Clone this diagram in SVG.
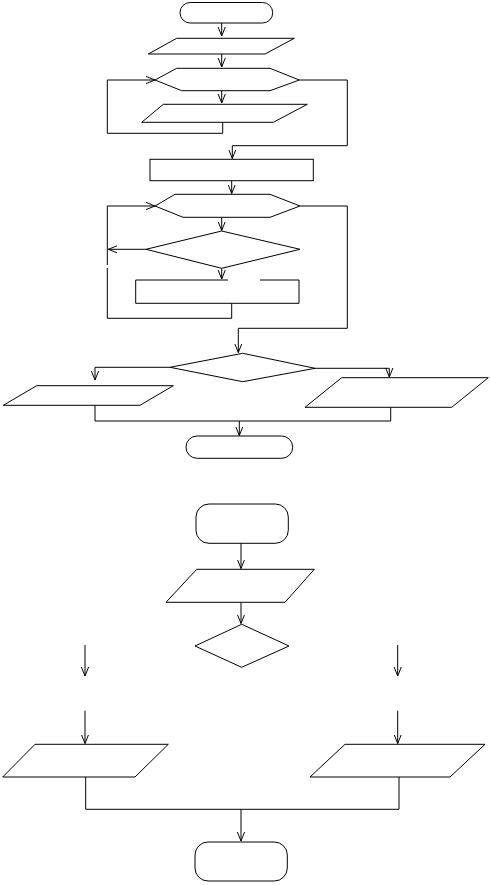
<svg xmlns="http://www.w3.org/2000/svg" width="490" height="885" viewBox="0 0 490 885">
<defs>
<style>
.s{fill:#fff;stroke:#000;stroke-width:1}
.c{fill:none;stroke:#000;stroke-width:1}
</style>
<marker id="a" viewBox="0 0 10 10" refX="10" refY="5" markerWidth="9" markerHeight="9" markerUnits="userSpaceOnUse" orient="auto">
<path d="M0,1 L10,5 L0,9" fill="none" stroke="#000" stroke-width="1.1"/>
</marker>
</defs>
<rect width="490" height="885" fill="#fff"/>
<g id="connectors" class="c">
<path class="c" d="M221.7,23 V36" marker-end="url(#a)"/>
<path class="c" d="M221.7,54 V67" marker-end="url(#a)"/>
<path class="c" d="M221.7,91 V103" marker-end="url(#a)"/>
<path class="c" d="M222.7,122 V133.3 H107.3 V80 H155" marker-end="url(#a)"/>
<path class="c" d="M299.3,80 H347.3 V145.7 H232.3 V158.5" marker-end="url(#a)"/>
<path class="c" d="M231.7,180.7 V193.5" marker-end="url(#a)"/>
<path class="c" d="M221.7,217.3 V230.5" marker-end="url(#a)"/>
<path class="c" d="M146,249.3 H108.3" marker-end="url(#a)"/>
<path class="c" d="M221.7,268.3 V279" marker-end="url(#a)"/>
<path class="c" d="M231.7,303.3 V318.3 H107.3 V268"/>
<path class="c" d="M107.3,265 V206 H155" marker-end="url(#a)"/>
<path class="c" d="M300,206 H347.3 V328.3 H238.3 V352.5" marker-end="url(#a)"/>
<path class="c" d="M170,367.3 H95 V380" marker-end="url(#a)"/>
<path class="c" d="M315,368.3 H389.3 V377" marker-end="url(#a)"/>
<path class="c" d="M95,405.3 V421 H390.7 V407.3"/>
<path class="c" d="M239.3,421 V435.5" marker-end="url(#a)"/>
<path class="c" d="M241,543.3 V568.5" marker-end="url(#a)"/>
<path class="c" d="M241,602.3 V623.5" marker-end="url(#a)"/>
<path class="c" d="M85,645 V676" marker-end="url(#a)"/>
<path class="c" d="M85,710.7 V743.5" marker-end="url(#a)"/>
<path class="c" d="M397.7,645 V676" marker-end="url(#a)"/>
<path class="c" d="M397.7,710.7 V743.5" marker-end="url(#a)"/>
<path class="c" d="M85.7,777 V809.3 H399 V777"/>
<path class="c" d="M241,809.3 V841" marker-end="url(#a)"/>
</g>
<g id="n1"><rect class="s" x="180" y="2.5" width="92.7" height="20.5" rx="10.2"/></g>
<g id="n2"><polygon class="s" points="176.7,38.3 294.3,38.3 265,54 148.3,54"/></g>
<g id="n3"><polygon class="s" points="176.7,68.3 270,68.3 299.3,80 270,90.7 181.7,90.7 155,80"/></g>
<g id="n4"><polygon class="s" points="163.3,104.3 307.3,104.3 273.3,122.3 141.7,122.3"/></g>
<g id="n5"><rect class="s" x="150" y="159.3" width="163.3" height="21.4"/></g>
<g id="n6"><polygon class="s" points="175,194.3 270,194.3 300,206 270,217.3 183,217.3 155,206"/></g>
<g id="n7"><polygon class="s" points="221.7,231 300,249.3 221.7,268.3 146,249.3"/></g>
<g id="n8"><path class="s" d="M228,280 H135.7 V303.3 H299 V280 H260"/></g>
<g id="n9"><polygon class="s" points="242.7,353.3 315,368.3 242.7,381.7 170,367.3"/></g>
<g id="n10"><polygon class="s" points="36.7,385.7 173.3,385.7 140,405.3 3.3,405.3"/></g>
<g id="n11"><polygon class="s" points="341.7,377.7 488.3,377.7 451.7,407.3 305,407.3"/></g>
<g id="n12"><rect class="s" x="186" y="436" width="106.7" height="22.3" rx="11.1"/></g>
<g id="n13"><rect class="s" x="196" y="504" width="92.3" height="39.3" rx="13"/></g>
<g id="n14"><polygon class="s" points="196.7,569.3 314.3,569.3 285,602.3 166,602.3"/></g>
<g id="n15"><polygon class="s" points="241.7,624.3 289,646 241.7,667.3 195,646"/></g>
<g id="n16"><polygon class="s" points="35,744.3 168.3,744.3 135,777 2.7,777"/></g>
<g id="n17"><polygon class="s" points="345,744.3 485,744.3 450,777 310,777"/></g>
<g id="n18"><rect class="s" x="195" y="842" width="92.3" height="39" rx="13"/></g>
</svg>
